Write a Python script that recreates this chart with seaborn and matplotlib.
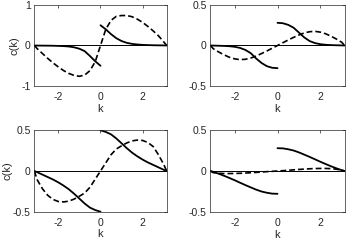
import numpy as np
import pandas as pd
import matplotlib
matplotlib.use("Agg")
import matplotlib.pyplot as plt
import seaborn as sns

sns.set_theme(style="white")
plt.rcParams['font.family'] = ['Liberation Sans', 'DejaVu Sans']

PI = 3.1416
k_left = [-PI, -3.0, -2.75, -2.5, -2.25, -2.0, -1.75, -1.5, -1.25, -1.0, -0.75, -0.5, -0.25, 0.0]
k_right = [0.0, 0.25, 0.5, 0.75, 1.0, 1.25, 1.5, 1.75, 2.0, 2.25, 2.5, 2.75, 3.0, PI]
k_full = k_left + k_right[1:]

# panel 1 (top left)
p1_solid_left = [0, -0.002, -0.003, -0.004, -0.006, -0.01, -0.015, -0.025, -0.045, -0.08, -0.14, -0.26, -0.39, -0.5]
p1_solid_right = [0.5, 0.4, 0.28, 0.18, 0.11, 0.065, 0.04, 0.025, 0.015, 0.01, 0.006, 0.004, 0.002, 0]
p1_dashed = [0, -0.08, -0.2, -0.32, -0.43, -0.53, -0.62, -0.69, -0.74, -0.76, -0.73, -0.62, -0.4, 0,
             0.4, 0.62, 0.72, 0.74, 0.74, 0.71, 0.65, 0.57, 0.47, 0.36, 0.24, 0.09, 0]

# panel 2 (top right)
p2_solid_left = [0, -0.001, -0.003, -0.005, -0.009, -0.016, -0.03, -0.055, -0.095, -0.16, -0.215, -0.255, -0.275, -0.28]
p2_solid_right = [0.28, 0.275, 0.255, 0.22, 0.16, 0.1, 0.055, 0.03, 0.016, 0.009, 0.005, 0.003, 0.001, 0]
p2_dashed = [0, -0.04, -0.08, -0.115, -0.145, -0.165, -0.175, -0.17, -0.155, -0.13, -0.1, -0.068, -0.034, 0,
             0.034, 0.068, 0.1, 0.13, 0.155, 0.17, 0.175, 0.165, 0.145, 0.115, 0.08, 0.04, 0]

# panel 3 (bottom left)
p3_solid_left = [0, -0.015, -0.045, -0.075, -0.105, -0.14, -0.18, -0.225, -0.28, -0.34, -0.4, -0.45, -0.48, -0.5]
p3_solid_right = [0.5, 0.48, 0.45, 0.4, 0.34, 0.28, 0.225, 0.18, 0.14, 0.105, 0.075, 0.045, 0.015, 0]
p3_dashed = [0, -0.11, -0.22, -0.3, -0.35, -0.375, -0.38, -0.37, -0.345, -0.31, -0.27, -0.2, -0.1, 0,
             0.1, 0.2, 0.27, 0.31, 0.345, 0.37, 0.38, 0.375, 0.35, 0.3, 0.2, 0.08, 0]

# panel 4 (bottom right)
p4_solid_left = [0, -0.01, -0.033, -0.058, -0.085, -0.113, -0.143, -0.172, -0.2, -0.227, -0.25, -0.265, -0.276, -0.278]
p4_solid_right = [0.278, 0.276, 0.265, 0.25, 0.227, 0.2, 0.172, 0.143, 0.113, 0.085, 0.058, 0.033, 0.01, 0]
p4_dashed = [0, -0.02, -0.028, -0.031, -0.031, -0.03, -0.028, -0.025, -0.021, -0.017, -0.013, -0.008, -0.004, 0,
             0.004, 0.009, 0.014, 0.019, 0.023, 0.027, 0.03, 0.031, 0.031, 0.029, 0.022, 0.01, 0]

y_ticks_p1 = [-1, 0, 1]
y_labels_p1 = ['-1', '0', '1']
y_ticks_half = [-0.5, 0, 0.5]
y_labels_half = ['-0.5', '0', '0.5']
x_ticks = [-2, 0, 2]
x_labels = ['-2', '0', '2']

panels = [
    (p1_solid_left, p1_solid_right, p1_dashed, y_ticks_p1, y_labels_p1),
    (p2_solid_left, p2_solid_right, p2_dashed, y_ticks_half, y_labels_half),
    (p3_solid_left, p3_solid_right, p3_dashed, y_ticks_half, y_labels_half),
    (p4_solid_left, p4_solid_right, p4_dashed, y_ticks_half, y_labels_half),
]

W, H = 346, 242
boxes = [(34.3, 5, 166.7, 86), (210.3, 5, 344.7, 86),
         (34.3, 130.3, 166.7, 211.7), (210.3, 130, 344.7, 212)]
ylabel_x = {0: -0.146, 2: -0.204}

fig = plt.figure(figsize=(W / 100, H / 100), dpi=100)
fig.patch.set_facecolor('white')

edge = '#262626'
for i, ((sl, sr, dsh, yt, ytl), (x0, y0, x1, y1)) in enumerate(zip(panels, boxes)):
    ax = fig.add_axes([x0 / W, 1 - y1 / H, (x1 - x0) / W, (y1 - y0) / H])
    ax.axhline(0, color='black', lw=0.7, zorder=1)
    sns.lineplot(x=k_left, y=sl, ax=ax, color='black', lw=1.3, estimator=None, sort=False)
    sns.lineplot(x=k_right, y=sr, ax=ax, color='black', lw=1.3, estimator=None, sort=False)
    sns.lineplot(x=k_full, y=dsh, ax=ax, color='black', lw=1.2, estimator=None, sort=False,
                 linestyle=(0, (3.5, 1.8)))
    ax.set_xlim(-PI, PI)
    ax.set_ylim(yt[0], yt[-1])
    ax.set_xticks(x_ticks)
    ax.set_xticklabels(x_labels)
    ax.set_yticks(yt)
    ax.set_yticklabels(ytl)
    ax.tick_params(direction='in', length=2, width=0.5, colors=edge, labelsize=7.5,
                   top=True, right=True)
    ax.tick_params(axis='x', pad=4.5)
    ax.tick_params(axis='y', pad=2.5)
    for s in ax.spines.values():
        s.set_color(edge)
        s.set_linewidth(0.5)
    ax.set_xlabel('k', fontsize=8, color=edge, labelpad=1)
    if i % 2 == 0:
        ax.set_ylabel('c(k)', fontsize=8, color=edge, va='center')
        ax.yaxis.set_label_coords(ylabel_x[i], 0.5)
    else:
        ax.set_ylabel('')

fig.savefig('out.png', dpi=100, facecolor='white')
